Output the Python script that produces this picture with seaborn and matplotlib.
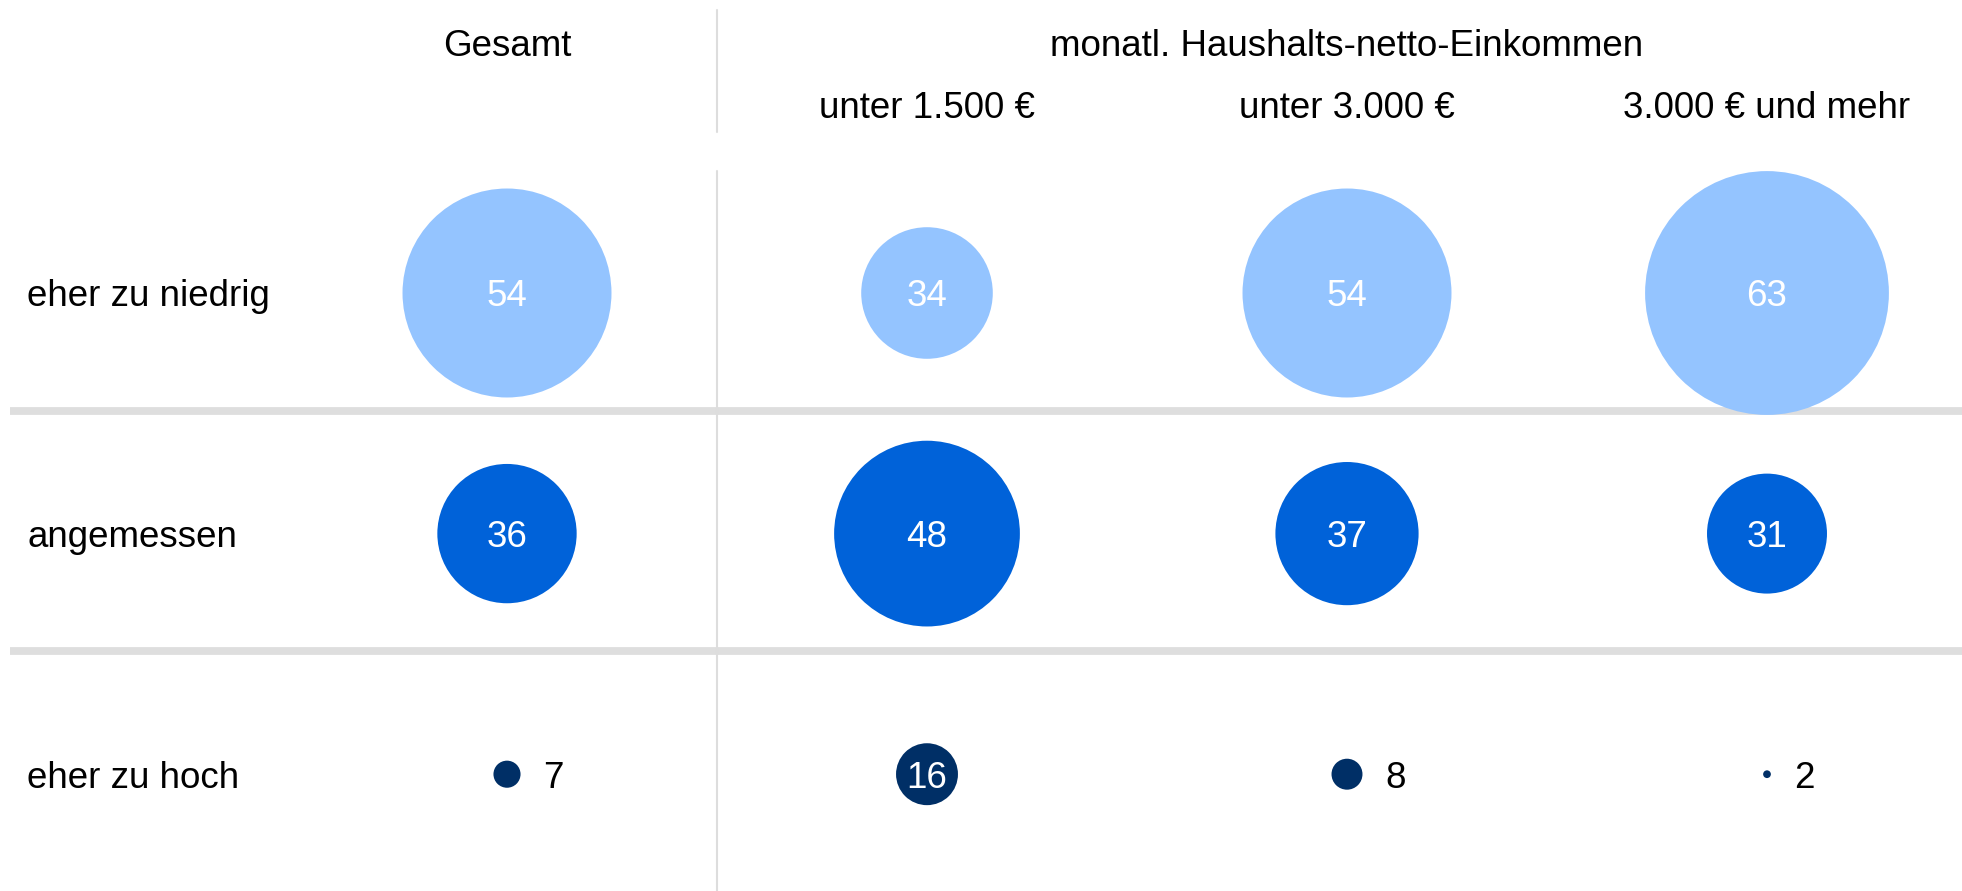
import seaborn as sns
import pandas as pd
import matplotlib.pyplot as plt

# Daten
antworten = ['eher zu niedrig', 'angemessen', 'eher zu hoch']
gruppen = ['Gesamt', 'unter 1.500 €', 'unter 3.000 €', '3.000 € und mehr']
werte = {
    'eher zu niedrig': [54, 34, 54, 63],
    'angemessen': [36, 48, 37, 31],
    'eher zu hoch': [7, 16, 8, 2],
}
farben = {'eher zu niedrig': '#94c4ff', 'angemessen': '#0062d9', 'eher zu hoch': '#002f66'}
titel_gesamt = 'Gesamt'
titel_einkommen = 'monatl. Haushalts-netto-Einkommen'

rows = []
for i, a in enumerate(antworten):
    for j, g in enumerate(gruppen):
        rows.append({'antwort': a, 'gruppe': g, 'x': j, 'y': i, 'wert': werte[a][j]})
df = pd.DataFrame(rows)

sns.set_style('white')
plt.rcParams['font.family'] = ['Liberation Sans', 'DejaVu Sans']
plt.rcParams['text.color'] = 'black'

W, H = 1962, 891
fig = plt.figure(figsize=(W / 100, H / 100), dpi=100)
ax = fig.add_axes([0, 0, 1, 1])

# Pixelraster: Spalten bei 507 + 420*j, Zeilen bei 293 + 240.6*i
x0, dx = 507, 420
y0, dy = 293, 240.6
ax.set_xlim(-x0 / dx, (W - x0) / dx)
ax.set_ylim((H - y0) / dy, -y0 / dy)
ax.axis('off')

px = 0.72  # pt pro Pixel
groessen = {v: (3.87 * v * px) ** 2 for v in df['wert'].unique()}

# Trennlinien
for yp in [410.5, 650.5]:
    ax.plot([(10 - x0) / dx, (W - x0) / dx], [(yp - y0) / dy] * 2,
            color='#dedede', lw=5.6, solid_capstyle='butt', zorder=0)
ax.plot([0.5, 0.5], [(10 - y0) / dy, (132 - y0) / dy], color='#dddddd', lw=1.5, zorder=0)
ax.plot([0.5, 0.5], [(171 - y0) / dy, (H - y0) / dy], color='#dddddd', lw=1.5, zorder=0)

sns.scatterplot(data=df, x='x', y='y', hue='antwort', palette=farben,
                size='wert', sizes=groessen, linewidth=0, legend=False, ax=ax, zorder=2)

fs = 26.5
for _, r in df.iterrows():
    if r['wert'] >= 12:
        ax.text(r['x'], r['y'], str(r['wert']), color='white', fontsize=fs,
                ha='center', va='center_baseline', zorder=3)
    else:
        rad = 3.87 * r['wert'] / 2
        ax.text(r['x'] + (rad + 23) / dx, r['y'], str(r['wert']), color='black',
                fontsize=fs, ha='left', va='center_baseline', zorder=3)

for i, a in enumerate(antworten):
    ax.text((27 - x0) / dx, i, a, fontsize=fs, ha='left', va='center_baseline')

ax.text(0, (42 - y0) / dy, titel_gesamt, fontsize=fs, ha='center', va='center_baseline')
ax.text(2, (42 - y0) / dy, titel_einkommen, fontsize=fs, ha='center', va='center_baseline')
for j, g in enumerate(gruppen[1:], start=1):
    ax.text(j, (104 - y0) / dy, g, fontsize=fs, ha='center', va='center_baseline')

fig.savefig('out.png', dpi=100, facecolor='white')
